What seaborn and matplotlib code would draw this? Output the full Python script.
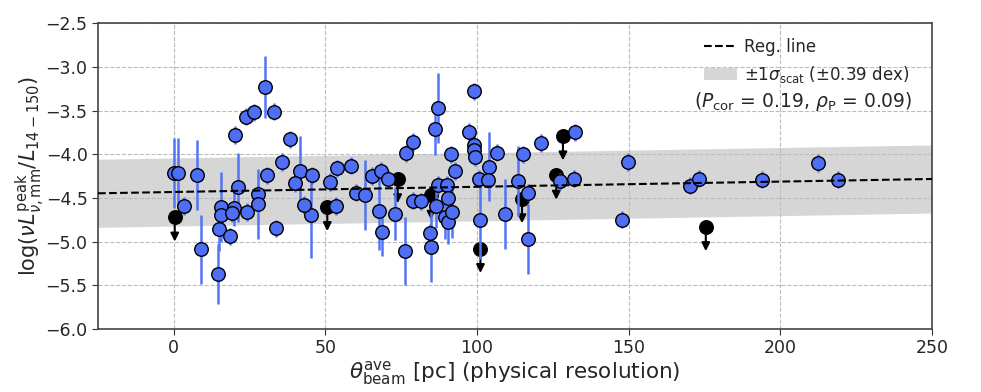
import numpy as np
import pandas as pd
import matplotlib
matplotlib.use("Agg")
import matplotlib.pyplot as plt
from matplotlib.lines import Line2D
from matplotlib.patches import Patch
import seaborn as sns

# ---- data ----
det_x = [0.0, 1.3, 3.3, 7.5, 9.0, 14.5, 14.9, 15.6, 15.4, 18.5,
         19.8, 19.3, 21.1, 20.1, 24.2, 23.7, 26.4, 30.1, 33.1, 27.9,
         27.9, 30.8, 33.7, 35.7, 38.2, 41.5, 39.8, 45.7, 45.1, 42.9,
         51.4, 53.9, 58.3, 53.6, 60.2, 63.1, 65.5, 68.3, 67.7, 70.7,
         68.8, 73.0, 76.3, 76.5, 78.7, 78.7, 81.5, 87.2, 86.1, 91.4,
         92.7, 87.2, 90.0, 90.3, 86.4, 89.4, 90.3, 91.6, 84.4, 84.8,
         99.1, 97.4, 99.1, 99.1, 99.3, 100.5, 101.0, 103.8, 103.5, 106.6,
         109.2, 113.4, 115.0, 116.9, 116.7, 121.1, 132.4, 127.4, 131.8, 149.7,
         147.9, 170.1, 173.1, 193.8, 212.3, 219.1]
det_y = [-4.21, -4.21, -4.59, -4.24, -5.09, -5.37, -4.86, -4.60, -4.69, -4.94,
         -4.62, -4.67, -4.38, -3.78, -4.66, -3.57, -3.52, -3.23, -3.51, -4.45,
         -4.57, -4.24, -4.85, -4.09, -3.83, -4.19, -4.33, -4.24, -4.70, -4.58,
         -4.32, -4.16, -4.13, -4.59, -4.44, -4.47, -4.25, -4.19, -4.65, -4.28,
         -4.89, -4.68, -5.11, -3.99, -3.86, -4.53, -4.54, -3.47, -3.71, -4.00,
         -4.19, -4.35, -4.35, -4.50, -4.59, -4.72, -4.78, -4.66, -4.90, -5.06,
         -3.28, -3.74, -3.89, -3.95, -4.03, -4.28, -4.75, -4.14, -4.29, -3.98,
         -4.68, -4.31, -4.00, -4.44, -4.97, -3.87, -3.75, -4.31, -4.28, -4.09,
         -4.75, -4.36, -4.28, -4.29, -4.10, -4.29]
det_err = [0.40, 0.40, 0.10, 0.40, 0.40, 0.34, 0.25, 0.40, 0.10, 0.10,
           0.20, 0.10, 0.40, 0.10, 0.10, 0.10, 0.10, 0.35, 0.10, 0.10,
           0.40, 0.10, 0.10, 0.10, 0.10, 0.40, 0.10, 0.10, 0.49, 0.10,
           0.10, 0.10, 0.10, 0.10, 0.10, 0.40, 0.10, 0.10, 0.45, 0.10,
           0.28, 0.30, 0.39, 0.10, 0.10, 0.10, 0.10, 0.40, 0.30, 0.10,
           0.10, 0.10, 0.10, 0.10, 0.25, 0.25, 0.25, 0.30, 0.10, 0.40,
           0.10, 0.10, 0.10, 0.10, 0.10, 0.10, 0.45, 0.40, 0.10, 0.10,
           0.40, 0.40, 0.10, 0.10, 0.40, 0.10, 0.10, 0.10, 0.10, 0.10,
           0.10, 0.10, 0.10, 0.10, 0.10, 0.10]

lim_x = [0.3, 50.6, 73.8, 84.8, 101.1, 114.8, 126.1, 128.3, 175.4]
lim_y = [-4.72, -4.60, -4.28, -4.47, -5.08, -4.51, -4.24, -3.79, -4.83]
arrow_len = 0.28

reg_intercept = -4.432
reg_slope = 0.000596
sigma_scat = 0.39
x_ticks = [0, 50, 100, 150, 200, 250]
y_ticks = [-6.0, -5.5, -5.0, -4.5, -4.0, -3.5, -3.0, -2.5]

det = pd.DataFrame({"x": det_x, "y": det_y, "err": det_err})
lim = pd.DataFrame({"x": lim_x, "y": lim_y})

sns.set_style("ticks")
plt.rcParams["font.family"] = ["DejaVu Sans"]
plt.rcParams["mathtext.fontset"] = "dejavusans"

fig = plt.figure(figsize=(9.81, 3.92), dpi=100)
ax = fig.add_axes([0.0999, 0.161, 0.8502, 0.7795])

xlim = (-25, 250)
ax.set_xlim(*xlim)
ax.set_ylim(-6.0, -2.5)

# regression line and scatter band
xx = np.array(xlim, dtype=float)
yy = reg_intercept + reg_slope * xx
ax.fill_between(xx, yy - sigma_scat, yy + sigma_scat, color="#d6d6d6", lw=0, zorder=0.2)
ax.plot(xx, yy, color="black", ls="--", lw=1.5, zorder=5)

# grid
ax.set_axisbelow(True)
ax.grid(True, ls="--", color="#bcbcbc", lw=0.8)

# upper limits (black) with downward arrows
for xv, yv in zip(lim_x, lim_y):
    ax.annotate("", xy=(xv, yv - arrow_len), xytext=(xv, yv),
                arrowprops=dict(arrowstyle="-|>", color="black", lw=1.5,
                                mutation_scale=12, shrinkA=0, shrinkB=0),
                zorder=2)
sns.scatterplot(data=lim, x="x", y="y", ax=ax, color="black", s=95,
                edgecolor="black", linewidth=1.0, zorder=3, legend=False)

# detections with error bars
ax.errorbar(det["x"], det["y"], yerr=det["err"], fmt="none",
            ecolor="#5274f7", elinewidth=1.8, capsize=0, zorder=3.5)
sns.scatterplot(data=det, x="x", y="y", ax=ax, color="#4d6ef5", s=95,
                edgecolor="black", linewidth=1.0, zorder=4, legend=False)

ax.set_xticks(x_ticks)
ax.set_yticks(y_ticks)
ax.tick_params(labelsize=12.5, direction="out", length=4, color="#333333")
for sp in ax.spines.values():
    sp.set_visible(True)
    sp.set_color("#444444")
    sp.set_linewidth(1.2)

ax.set_xlabel(r"$\theta_{\rm beam}^{\rm ave}$ [pc] (physical resolution)", fontsize=15.5, labelpad=1)
ax.set_ylabel(r"$\log(\nu L_{\nu,\rm mm}^{\rm peak}/L_{14-150})$", fontsize=15, labelpad=-1)

handles = [Line2D([0], [0], color="black", ls="--", lw=1.5),
           Patch(facecolor="#d6d6d6", edgecolor="none")]
labels = ["Reg. line", r"$\pm1\sigma_{\rm scat}$ ($\pm$0.39 dex)"]
ax.legend(handles, labels, loc="upper left", bbox_to_anchor=(0.712, 0.99),
          frameon=False, fontsize=12, handlelength=2.0, handletextpad=0.4,
          borderaxespad=0.3, labelspacing=0.45)
ax.text(0.714, 0.744, r"($P_{\rm cor}$ = 0.19, $\rho_{\rm P}$ = 0.09)",
        transform=ax.transAxes, fontsize=13.5, ha="left", va="center")

fig.savefig("out.png", dpi=100)
